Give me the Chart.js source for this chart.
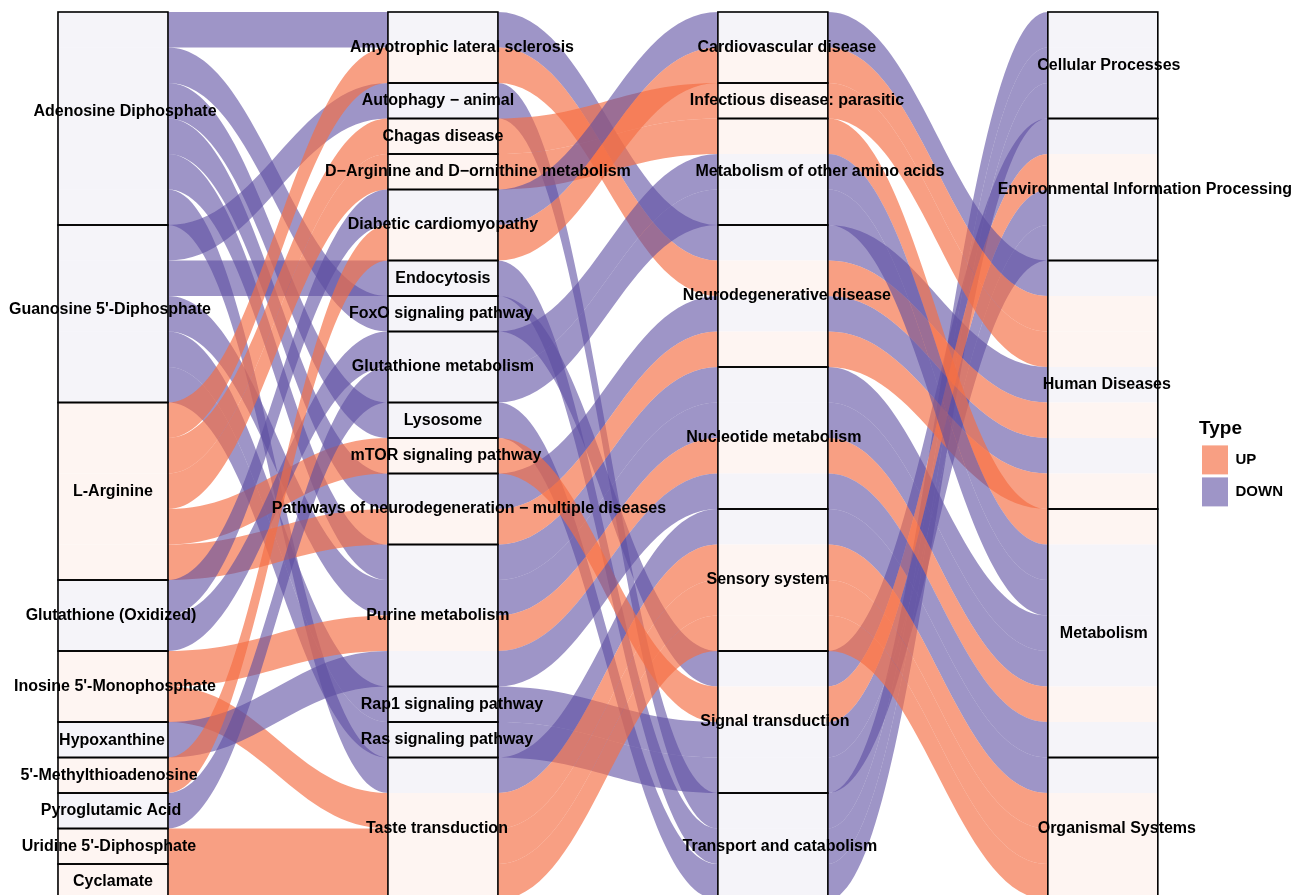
<!DOCTYPE html>
<html>
<head>
<meta charset="utf-8">
<script src="https://cdn.jsdelivr.net/npm/chart.js@4.4.1/dist/chart.umd.min.js"></script>
<style>
  html, body { margin: 0; padding: 0; background: #ffffff; }
  #wrap { width: 1293px; height: 895px; }
</style>
</head>
<body>
<div id="wrap"><canvas id="chart" width="1293" height="895"></canvas></div>
<script>
// ---- Axis 1: metabolites and their regulation ----
const metabolites = [
  'Adenosine Diphosphate', "Guanosine 5'-Diphosphate", 'L-Arginine',
  'Glutathione (Oxidized)', "Inosine 5'-Monophosphate", 'Hypoxanthine',
  "5'-Methylthioadenosine", 'Pyroglutamic Acid', "Uridine 5'-Diphosphate", 'Cyclamate'
];
const metaboliteType = ['DOWN', 'DOWN', 'UP', 'DOWN', 'UP', 'DOWN', 'UP', 'DOWN', 'UP', 'UP'];

// ---- Axis 2: KEGG pathways ----
const pathways = [
  'Amyotrophic lateral sclerosis', 'Autophagy \u2212 animal', 'Chagas disease',
  'D\u2212Arginine and D\u2212ornithine metabolism', 'Diabetic cardiomyopathy', 'Endocytosis',
  'FoxO signaling pathway', 'Glutathione metabolism', 'Lysosome', 'mTOR signaling pathway',
  'Pathways of neurodegeneration \u2212 multiple diseases', 'Purine metabolism',
  'Rap1 signaling pathway', 'Ras signaling pathway', 'Taste transduction'
];
const pathwaySubclass = [
  'Neurodegenerative disease', 'Transport and catabolism', 'Infectious disease: parasitic',
  'Metabolism of other amino acids', 'Cardiovascular disease', 'Transport and catabolism',
  'Signal transduction', 'Metabolism of other amino acids', 'Transport and catabolism',
  'Signal transduction', 'Neurodegenerative disease', 'Nucleotide metabolism',
  'Signal transduction', 'Signal transduction', 'Sensory system'
];

// ---- Axis 3: pathway subclasses ----
const subclasses = [
  'Cardiovascular disease', 'Infectious disease: parasitic', 'Metabolism of other amino acids',
  'Neurodegenerative disease', 'Nucleotide metabolism', 'Sensory system',
  'Signal transduction', 'Transport and catabolism'
];
const subclassClass = [
  'Human Diseases', 'Human Diseases', 'Metabolism', 'Human Diseases', 'Metabolism',
  'Organismal Systems', 'Environmental Information Processing', 'Cellular Processes'
];

// ---- Axis 4: pathway classes ----
const classes = [
  'Cellular Processes', 'Environmental Information Processing', 'Human Diseases',
  'Metabolism', 'Organismal Systems'
];

// ---- Metabolite -> pathway links (one alluvium each) ----
const linkMetabolite = [
  'Adenosine Diphosphate', 'Adenosine Diphosphate', 'Adenosine Diphosphate',
  'Adenosine Diphosphate', 'Adenosine Diphosphate', 'Adenosine Diphosphate',
  "Guanosine 5'-Diphosphate", "Guanosine 5'-Diphosphate", "Guanosine 5'-Diphosphate",
  "Guanosine 5'-Diphosphate", "Guanosine 5'-Diphosphate",
  'L-Arginine', 'L-Arginine', 'L-Arginine', 'L-Arginine', 'L-Arginine',
  'Glutathione (Oxidized)', 'Glutathione (Oxidized)',
  "Inosine 5'-Monophosphate", "Inosine 5'-Monophosphate",
  'Hypoxanthine', "5'-Methylthioadenosine", 'Pyroglutamic Acid',
  "Uridine 5'-Diphosphate", 'Cyclamate'
];
const linkPathway = [
  'Amyotrophic lateral sclerosis', 'FoxO signaling pathway', 'Lysosome',
  'Pathways of neurodegeneration \u2212 multiple diseases', 'Purine metabolism', 'Taste transduction',
  'Autophagy \u2212 animal', 'Endocytosis', 'Purine metabolism',
  'Rap1 signaling pathway', 'Ras signaling pathway',
  'Amyotrophic lateral sclerosis', 'Chagas disease', 'D\u2212Arginine and D\u2212ornithine metabolism',
  'mTOR signaling pathway', 'Pathways of neurodegeneration \u2212 multiple diseases',
  'Diabetic cardiomyopathy', 'Glutathione metabolism',
  'Purine metabolism', 'Taste transduction',
  'Purine metabolism', 'Diabetic cardiomyopathy', 'Glutathione metabolism',
  'Taste transduction', 'Taste transduction'
];

const typeLabels = ['UP', 'DOWN'];
const typeColors = { UP: 'rgba(244,109,67,0.66)', DOWN: 'rgba(94,79,162,0.6)' };

// Repelled stratum labels: pixel offsets from the stratum centre
const labelNudge = {
  'Adenosine Diphosphate': [12, -7], "Guanosine 5'-Diphosphate": [-3, -4],
  'Glutathione (Oxidized)': [-2, 0], "Inosine 5'-Monophosphate": [2, 0],
  'Hypoxanthine': [-1, 1], "5'-Methylthioadenosine": [-4, 0],
  'Pyroglutamic Acid': [-2, 0], "Uridine 5'-Diphosphate": [-4, 0],
  'Amyotrophic lateral sclerosis': [19, 0], 'Autophagy \u2212 animal': [-5, 0],
  'D\u2212Arginine and D\u2212ornithine metabolism': [35, 0], 'FoxO signaling pathway': [-2, 0],
  'mTOR signaling pathway': [3, 0], 'Pathways of neurodegeneration \u2212 multiple diseases': [26, 0],
  'Purine metabolism': [-5, 0], 'Rap1 signaling pathway': [9, 0],
  'Ras signaling pathway': [4, 0], 'Taste transduction': [-6, 0],
  'Cardiovascular disease': [14, 0], 'Infectious disease: parasitic': [24, 0],
  'Metabolism of other amino acids': [47, 0], 'Neurodegenerative disease': [14, 0],
  'Nucleotide metabolism': [1, 0], 'Sensory system': [-5, 0],
  'Signal transduction': [2, 0], 'Transport and catabolism': [7, 0],
  'Cellular Processes': [6, 0], 'Environmental Information Processing': [42, 0],
  'Human Diseases': [4, 0], 'Metabolism': [1, 0], 'Organismal Systems': [14, 0]
};

// ---- Build alluvia: stratum index on each of the four axes ----
const axisStrata = [metabolites, pathways, subclasses, classes];
const alluvia = linkMetabolite.map((m, i) => {
  const mi = metabolites.indexOf(m);
  const pi = pathways.indexOf(linkPathway[i]);
  const si = subclasses.indexOf(pathwaySubclass[pi]);
  const ci = classes.indexOf(subclassClass[si]);
  return { keys: [mi, pi, si, ci], type: metaboliteType[mi] };
});

// Lode ordering inside each stratum: own axis first, then zigzag outwards
const lodeGuidance = [[0, 1, 2, 3], [1, 0, 2, 3], [2, 3, 1, 0], [3, 2, 1, 0]];
lodeGuidance.forEach((order, a) => {
  const idx = alluvia.map((_, i) => i);
  idx.sort((p, q) => {
    for (const k of order) {
      const d = alluvia[p].keys[k] - alluvia[q].keys[k];
      if (d !== 0) return d;
    }
    return p - q;
  });
  idx.forEach((r, rank) => { alluvia[r]['y' + a] = rank; });
});

// Stratum extents (counts stacked from the top)
const strataExtents = axisStrata.map((names, a) => {
  let start = 0;
  return names.map((name, j) => {
    const n = alluvia.filter(r => r.keys[a] === j).length;
    const s = { name, start, end: start + n };
    start += n;
    return s;
  });
});

const STRATUM_W = 1 / 3;     // stratum width in axis units
const KNOT = 0.42;           // flow curvature

const alluvialPlugin = {
  id: 'alluvial',
  beforeDatasetsDraw(chart) {
    const { ctx, scales: { x, y } } = chart;
    const half = STRATUM_W / 2;
    const X = v => x.getPixelForValue(v);
    const Y = v => y.getPixelForValue(v);

    // flows
    alluvia.forEach(r => {
      const tops = [r.y0, r.y1, r.y2, r.y3];
      ctx.beginPath();
      ctx.moveTo(X(1 - half), Y(tops[0]));
      ctx.lineTo(X(1 + half), Y(tops[0]));
      for (let a = 0; a < 3; a++) {
        const x0 = a + 1 + half, x1 = a + 2 - half, g = x1 - x0;
        ctx.bezierCurveTo(X(x0 + KNOT * g), Y(tops[a]), X(x1 - KNOT * g), Y(tops[a + 1]), X(x1), Y(tops[a + 1]));
        ctx.lineTo(X(a + 2 + half), Y(tops[a + 1]));
      }
      ctx.lineTo(X(4 + half), Y(tops[3] + 1));
      ctx.lineTo(X(4 - half), Y(tops[3] + 1));
      for (let a = 3; a > 0; a--) {
        const x1 = a + 1 - half, x0 = a + half, g = x1 - x0;
        ctx.bezierCurveTo(X(x1 - KNOT * g), Y(tops[a] + 1), X(x0 + KNOT * g), Y(tops[a - 1] + 1), X(x0), Y(tops[a - 1] + 1));
        ctx.lineTo(X(a - half), Y(tops[a - 1] + 1));
      }
      ctx.closePath();
      ctx.fillStyle = typeColors[r.type];
      ctx.fill();
    });

    // strata boxes
    strataExtents.forEach((list, a) => {
      list.forEach(s => {
        const l = X(a + 1 - half), rgt = X(a + 1 + half);
        ctx.fillStyle = 'rgba(255,255,255,0.9)';
        ctx.fillRect(l, Y(s.start), rgt - l, Y(s.end) - Y(s.start));
      });
    });

    // stratum labels
    ctx.save();
    ctx.fillStyle = '#000000';
    ctx.font = 'bold 16px "Liberation Sans", Arial, sans-serif';
    ctx.textAlign = 'center';
    ctx.textBaseline = 'middle';
    strataExtents.forEach((list, a) => {
      list.forEach(s => {
        const [dx, dy] = labelNudge[s.name] || [0, 0];
        ctx.fillText(s.name, X(a + 1) + dx, Y((s.start + s.end) / 2) + dy);
      });
    });
    ctx.restore();

    // stratum borders
    ctx.save();
    ctx.strokeStyle = '#000000';
    ctx.lineWidth = 1.6;
    strataExtents.forEach((list, a) => {
      list.forEach(s => {
        const l = X(a + 1 - half), rgt = X(a + 1 + half);
        ctx.strokeRect(l, Y(s.start), rgt - l, Y(s.end) - Y(s.start));
      });
    });
    ctx.restore();
  }
};

new Chart(document.getElementById('chart'), {
  type: 'scatter',
  data: {
    datasets: typeLabels.map(t => ({
      label: t, data: [], backgroundColor: typeColors[t], borderColor: typeColors[t]
    }))
  },
  options: {
    responsive: false,
    animation: false,
    devicePixelRatio: 1,
    layout: { padding: { left: 0, right: 0, top: 0, bottom: 0 } },
    scales: {
      x: { type: 'linear', display: false, min: 0.6576, max: 4.2915 },
      y: { type: 'linear', display: false, reverse: true, min: -0.338, max: 24.873 }
    },
    plugins: {
      tooltip: { enabled: false },
      legend: {
        position: 'right',
        align: 'center',
        title: {
          display: true, text: 'Type', position: 'start',
          color: '#000', font: { family: '"Liberation Sans", Arial, sans-serif', size: 19, weight: 'bold' },
          padding: { top: 34, bottom: 0 }
        },
        labels: {
          boxWidth: 26, boxHeight: 29, padding: 3, color: '#000',
          font: { family: '"Liberation Sans", Arial, sans-serif', size: 15, weight: 'bold' },
          generateLabels: () => typeLabels.map((t, i) => ({
            text: t, fillStyle: typeColors[t], strokeStyle: 'rgba(0,0,0,0)', lineWidth: 0, datasetIndex: i, hidden: false
          }))
        }
      }
    }
  },
  plugins: [alluvialPlugin]
});
</script>
</body>
</html>
